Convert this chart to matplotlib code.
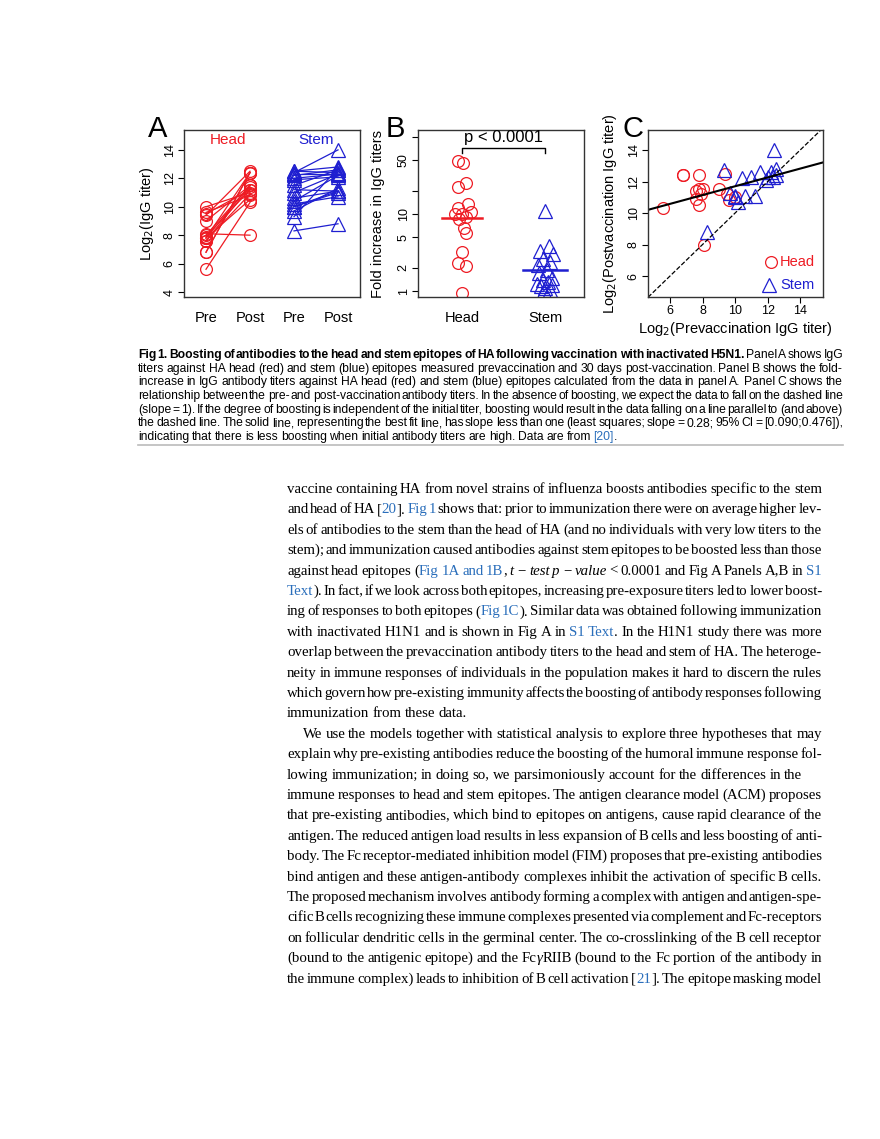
import matplotlib
matplotlib.use("Agg")
import matplotlib.pyplot as plt
import numpy as np

# ---------------- data ----------------
head_pre = [5.6, 6.8, 6.8, 7.8, 7.6, 7.8, 8.0, 7.6, 7.8, 7.9, 9.0, 9.4, 9.5, 9.6, 10.0, 8.1]
head_post = [10.3, 12.4, 12.4, 12.4, 11.4, 11.5, 11.5, 10.9, 10.5, 11.2, 11.5, 12.5, 11.2, 10.8, 11.0, 8.0]
stem_pre = [8.3, 9.3, 9.7, 10.0, 10.2, 10.4, 10.6, 11.0, 11.2, 11.5, 11.9, 12.0, 12.2, 12.3, 12.4, 12.5, 12.5, 10.0]
stem_post = [8.8, 12.7, 11.3, 11.1, 10.7, 12.2, 11.1, 12.3, 11.1, 12.6, 12.1, 12.3, 12.6, 12.3, 14.0, 12.8, 12.4, 11.0]
head_fold = [48, 46, 25, 22, 13.5, 12, 10.5, 10, 10, 9, 8.5, 6.5, 5.7, 3.2, 2.3, 2.1, 0.95]
stem_fold = [11, 3.8, 3.3, 3.0, 2.6, 2.4, 2.2, 1.9, 1.7, 1.5, 1.4, 1.3, 1.25, 1.2, 1.15, 1.1, 1.05, 1.0]
head_median, stem_median = 8.8, 1.9
fit_slope, fit_intercept = 0.28, 8.9
a_xlabels = ["Pre", "Post", "Pre", "Post"]
b_xlabels = ["Head", "Stem"]

head_jit = [-0.05, 0.01, 0.05, -0.05, 0.07, -0.05, 0.11, -0.08, 0.0, 0.05, -0.04, 0.02, 0.05, 0.0, -0.05, 0.05, 0.0]
stem_jit = [0.0, 0.05, -0.06, 0.1, -0.02, 0.06, -0.08, 0.03, -0.07, 0.08, -0.03, 0.04, -0.1, 0.09, -0.05, 0.0, 0.06, -0.01]

W, H = 880, 1139
fig = plt.figure(figsize=(8.8, 11.39), dpi=100)
plt.rcParams['font.family'] = ['Liberation Sans', 'DejaVu Sans']

def ax_at(x0, y0, x1, y1):
    return fig.add_axes([x0 / W, 1 - y1 / H, (x1 - x0) / W, (y1 - y0) / H])

RED, BLUE = '#ee1c24', '#1f1fd0'
ms = 8.5

def style(ax):
    for s in ax.spines.values():
        s.set_color('#333333'); s.set_linewidth(1.0)
    ax.tick_params(axis='y', labelsize=9, rotation=90, length=4, pad=2)
    for lab in ax.get_yticklabels():
        lab.set_va('center')

# Panel A
ax = ax_at(184, 130, 360, 297)
for p, q in zip(head_pre, head_post):
    ax.plot([1, 2], [p, q], '-o', color=RED, lw=0.9, ms=ms, mfc='none', mew=0.9)
for p, q in zip(stem_pre, stem_post):
    ax.plot([3, 4], [p, q], '-^', color=BLUE, lw=0.9, ms=ms + 1, mfc='none', mew=0.9)
ax.set_xlim(0.5, 4.5); ax.set_ylim(3.65, 15.4)
ax.set_yticks([4, 6, 8, 10, 12, 14])
ax.set_xticks([1, 2, 3, 4]); ax.set_xticklabels(a_xlabels, fontsize=10.5)
ax.tick_params(axis='x', length=0, pad=10)
ax.set_ylabel('Log$_2$(IgG titer)', fontsize=10.5)
ax.yaxis.set_label_coords(-0.16, 0.5)
ax.text(1.5, 15.2, 'Head', color=RED, fontsize=11, ha='center', va='top')
ax.text(3.5, 15.2, 'Stem', color=BLUE, fontsize=11, ha='center', va='top')
style(ax)
fig.text(148 / W, 1 - 129 / H, 'A', fontsize=21, va='center')

# Panel B
ax = ax_at(418, 130, 584, 297)
ax.set_yscale('log')
ax.plot(np.array(head_jit) + 1, head_fold, 'o', color=RED, ms=ms, mfc='none', mew=0.9)
ax.plot(np.array(stem_jit) + 2, stem_fold, '^', color=BLUE, ms=ms + 1, mfc='none', mew=0.9)
ax.plot([0.76, 1.24], [head_median] * 2, color=RED, lw=1.8)
ax.plot([1.73, 2.27], [stem_median] * 2, color=BLUE, lw=1.8)
ax.plot([1, 1, 2, 2], [61, 71.5, 71.5, 61], color='black', lw=1)
ax.text(1.5, 78, 'p < 0.0001', ha='center', va='bottom', fontsize=12)
ax.set_xlim(0.47, 2.47); ax.set_ylim(0.84, 122)
ax.set_yticks([1, 2, 5, 10, 20, 50, 100])
ax.set_yticklabels(['1', '2', '5', '10', '', '50', ''])
ax.yaxis.set_minor_locator(matplotlib.ticker.NullLocator())
ax.set_xticks([1, 2]); ax.set_xticklabels(b_xlabels, fontsize=10.5)
ax.tick_params(axis='x', length=0, pad=10)
ax.set_ylabel('Fold increase in IgG titers', fontsize=10.5)
ax.yaxis.set_label_coords(-0.2, 0.5)
style(ax)
fig.text(386 / W, 1 - 129 / H, 'B', fontsize=21, va='center')

# Panel C
ax = ax_at(648, 130, 823, 297)
ax.plot(head_pre, head_post, 'o', color=RED, ms=ms, mfc='none', mew=0.9)
ax.plot(stem_pre, stem_post, '^', color=BLUE, ms=ms + 1, mfc='none', mew=0.9)
xx = np.array([4.65, 15.4])
ax.plot(xx, xx, '--', color='black', lw=0.9)
ax.plot(xx, fit_intercept + fit_slope * xx, '-', color='black', lw=1.5)
ax.set_xlim(4.65, 15.4); ax.set_ylim(4.67, 15.27)
ax.set_xticks([6, 8, 10, 12, 14]); ax.set_yticks([6, 8, 10, 12, 14])
ax.tick_params(axis='x', labelsize=9, length=4, pad=2)
ax.set_xlabel('Log$_2$(Prevaccination IgG titer)', fontsize=10.5, labelpad=2)
ax.set_ylabel('Log$_2$(Postvaccination IgG titer)', fontsize=10.5)
ax.yaxis.set_label_coords(-0.168, 0.5)
ax.plot([12.2], [6.9], 'o', color=RED, ms=ms, mfc='none', mew=0.9)
ax.plot([12.1], [5.4], '^', color=BLUE, ms=ms + 1, mfc='none', mew=0.9)
ax.text(12.75, 6.9, 'Head', color=RED, fontsize=10.5, va='center')
ax.text(12.75, 5.4, 'Stem', color=BLUE, fontsize=10.5, va='center')
style(ax)
fig.text(622 / W, 1 - 129 / H, 'C', fontsize=21, va='center')

# ---------------- text ----------------
renderer = fig.canvas.get_renderer()
LINK = '#2a6ebb'

def parse(line):
    words, cur, st = [], [], {'b': False, 'i': False, 'B': False}
    buf = ''
    def flush():
        nonlocal buf
        if buf:
            cur.append((buf, dict(st)))
            buf = ''
    for ch in line:
        if ch in '^~@':
            flush()
            key = {'^': 'b', '~': 'i', '@': 'B'}[ch]
            st[key] = not st[key]
        elif ch == ' ':
            flush()
            if cur:
                words.append(cur); cur = []
        else:
            buf += ch
    flush()
    if cur:
        words.append(cur)
    return words

def draw_line(line, x0, x1, y, fam, size, justify):
    words = parse(line)
    objs = []
    widths = []
    for w in words:
        wobjs = []; tw = 0
        for txt, st in w:
            t = fig.text(0, 0, txt, fontsize=size, family=fam,
                         color=LINK if st['b'] else 'black',
                         style='italic' if st['i'] else 'normal',
                         weight='bold' if st['B'] else 'normal',
                         transform=None, va='baseline', ha='left')
            bb = t.get_window_extent(renderer)
            wobjs.append((t, bb.width)); tw += bb.width
        objs.append(wobjs); widths.append(tw)
    sp = size * 0.3
    if justify and len(words) > 1:
        gap = (x1 - x0 - sum(widths)) / (len(words) - 1)
    else:
        gap = sp
    x = x0
    for wobjs, tw in zip(objs, widths):
        xx = x
        for t, w in wobjs:
            t.set_position((xx, H - y)); xx += w
        x += tw + gap

cap_fam = ['Liberation Sans Narrow', 'Liberation Sans', 'DejaVu Sans']
caption = [
    "@Fig 1. Boosting of antibodies to the head and stem epitopes of HA following vaccination with inactivated H5N1.@ Panel A shows IgG",
    "titers against HA head (red) and stem (blue) epitopes measured prevaccination and 30 days post-vaccination. Panel B shows the fold-",
    "increase in IgG antibody titers against HA head (red) and stem (blue) epitopes calculated from the data in panel A. Panel C shows the",
    "relationship between the pre- and post-vaccination antibody titers. In the absence of boosting, we expect the data to fall on the dashed line",
    "(slope = 1). If the degree of boosting is independent of the initial titer, boosting would result in the data falling on a line parallel to (and above)",
    "the dashed line. The solid line, representing the best fit line, has slope less than one (least squares; slope = 0.28; 95% CI = [0.090;0.476]),",
    "indicating that there is less boosting when initial antibody titers are high. Data are from ^[20]^.",
]
for i, ln in enumerate(caption):
    draw_line(ln, 138, 843, 358 + i * 13.65, cap_fam, 8.75, i < len(caption) - 1)
fig.add_artist(plt.Line2D([138 / W, 843 / W], [1 - 445 / H] * 2, color='#bbbbbb', lw=1.2))

body = [
    ("vaccine containing HA from novel strains of influenza boosts antibodies specific to the stem", True, 287),
    ("and head of HA [^20^]. ^Fig 1^ shows that: prior to immunization there were on average higher lev-", True, 287),
    ("els of antibodies to the stem than the head of HA (and no individuals with very low titers to the", True, 287),
    ("stem); and immunization caused antibodies against stem epitopes to be boosted less than those", True, 287),
    ("against head epitopes (^Fig 1A and 1B^, ~t − test p − value~ < 0.0001 and Fig A Panels A,B in ^S1^", True, 287),
    ("^Text^). In fact, if we look across both epitopes, increasing pre-exposure titers led to lower boost-", True, 287),
    ("ing of responses to both epitopes (^Fig 1C^). Similar data was obtained following immunization", True, 287),
    ("with inactivated H1N1 and is shown in Fig A in ^S1 Text^. In the H1N1 study there was more", True, 287),
    ("overlap between the prevaccination antibody titers to the head and stem of HA. The heteroge-", True, 287),
    ("neity in immune responses of individuals in the population makes it hard to discern the rules", True, 287),
    ("which govern how pre-existing immunity affects the boosting of antibody responses following", True, 287),
    ("immunization from these data.", False, 287),
    ("We use the models together with statistical analysis to explore three hypotheses that may", True, 303),
    ("explain why pre-existing antibodies reduce the boosting of the humoral immune response fol-", True, 287),
    ("lowing immunization; in doing so, we parsimoniously account for the differences in the", False, 287),
    ("immune responses to head and stem epitopes. The antigen clearance model (ACM) proposes", True, 287),
    ("that pre-existing antibodies, which bind to epitopes on antigens, cause rapid clearance of the", True, 287),
    ("antigen. The reduced antigen load results in less expansion of B cells and less boosting of anti-", True, 287),
    ("body. The Fc receptor-mediated inhibition model (FIM) proposes that pre-existing antibodies", True, 287),
    ("bind antigen and these antigen-antibody complexes inhibit the activation of specific B cells.", True, 287),
    ("The proposed mechanism involves antibody forming a complex with antigen and antigen-spe-", True, 287),
    ("cific B cells recognizing these immune complexes presented via complement and Fc-receptors", True, 287),
    ("on follicular dendritic cells in the germinal center. The co-crosslinking of the B cell receptor", True, 287),
    ("(bound to the antigenic epitope) and the Fc~γ~RIIB (bound to the Fc portion of the antibody in", True, 287),
    ("the immune complex) leads to inhibition of B cell activation [^21^]. The epitope masking model", True, 287),
]
body_fam = ['Liberation Serif', 'DejaVu Serif']
for i, (ln, just, x0) in enumerate(body):
    draw_line(ln, x0, 822, 493 + i * 20.4, body_fam, 10.7, just)

fig.savefig('out.png', dpi=100)
